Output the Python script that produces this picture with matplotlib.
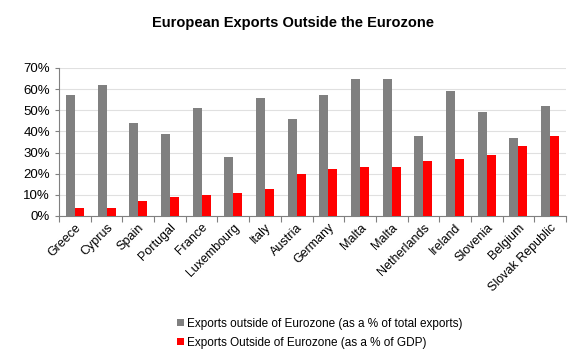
import numpy as np
import matplotlib
matplotlib.use("Agg")
import matplotlib.pyplot as plt
from matplotlib.ticker import PercentFormatter

plt.rcParams['font.family'] = ['Liberation Sans', 'DejaVu Sans']

# Datos
countries = ["Greece", "Cyprus", "Spain", "Portugal", "France", "Luxembourg",
             "Italy", "Austria", "Germany", "Malta", "Malta", "Netherlands",
             "Ireland", "Slovenia", "Belgium", "Slovak Republic"]
pct_exports = [57, 62, 44, 39, 51, 28, 56, 46, 57, 65, 65, 38, 59, 49, 37, 52]
pct_gdp = [4, 4, 7, 9, 10, 11, 13, 20, 22, 23, 23, 26, 27, 29, 33, 38]
series_names = ["Exports outside of Eurozone (as a % of total exports)",
                "Exports Outside of Eurozone (as a % of GDP)"]

fig = plt.figure(figsize=(5.85, 3.6), dpi=100)
ax = fig.add_axes([59/585, 1 - 216/360, 507/585, 148/360])

x = np.arange(len(countries))
w = 0.285
b1 = ax.bar(x - w/2, pct_exports, w, color='#808080', label=series_names[0], zorder=3)
b2 = ax.bar(x + w/2, pct_gdp, w, color='#ff0000', label=series_names[1], zorder=3)

ax.set_xlim(-0.5, len(countries) - 0.5)
ax.set_ylim(0, 70)
ax.set_yticks(np.arange(0, 71, 10))
ax.yaxis.set_major_formatter(PercentFormatter(decimals=0))
ax.grid(axis='y', color='#e0e0e0', linewidth=0.8, zorder=0)

# marcas entre categorías
ax.set_xticks(np.arange(-0.5, len(countries)), minor=False)
ax.set_xticklabels([])
ax.set_xticks(x, minor=True)
ax.set_xticklabels(countries, minor=True, rotation=45, ha='right',
                   rotation_mode='anchor', fontsize=9)
ax.tick_params(axis='x', which='minor', length=0, pad=4)
ax.tick_params(axis='x', which='major', length=4, direction='out', color='#808080')
ax.tick_params(axis='y', labelsize=9.5, length=3, color='#808080')

for s in ['top', 'right']:
    ax.spines[s].set_visible(False)
ax.spines['left'].set_color('#808080')
ax.spines['bottom'].set_color('#808080')

fig.text(0.5, 1 - 23/360, "European Exports Outside the Eurozone",
         ha='center', va='center', fontsize=10.5, fontweight='bold')

fig.legend(handles=[b1, b2], loc='upper left', bbox_to_anchor=(166/585, 1 - 307/360),
           frameon=False, fontsize=8.5, handlelength=0.6, handleheight=0.6,
           handletextpad=0.3, labelspacing=0.6)

fig.savefig("out.png", dpi=100)
